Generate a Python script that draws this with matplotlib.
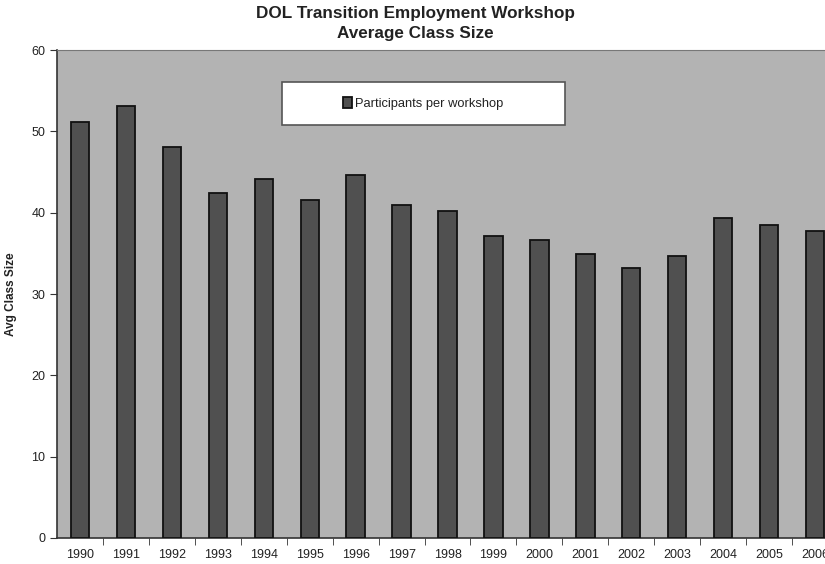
import numpy as np
import matplotlib
matplotlib.use("Agg")
import matplotlib.pyplot as plt
from matplotlib.patches import Rectangle

plt.rcParams['font.family'] = ['Liberation Sans', 'DejaVu Sans']

years = ['1990', '1991', '1992', '1993', '1994', '1995', '1996', '1997', '1998',
         '1999', '2000', '2001', '2002', '2003', '2004', '2005', '2006']
class_size = [51.2, 53.1, 48.1, 42.4, 44.2, 41.6, 44.7, 40.9, 40.2,
              37.2, 36.6, 34.9, 33.2, 34.7, 39.4, 38.5, 37.7]

fig = plt.figure(figsize=(8.25, 5.64), dpi=100)
# the original chart is cut off at the right edge, so the axes run past it
ax = fig.add_axes([0.0691, 0.0461, 0.9467, 0.865])
ax.set_facecolor('#b3b3b3')

x = np.arange(len(years))
ax.bar(x, class_size, width=0.4, color='#505050', edgecolor='#111111',
       linewidth=1.3, label='Participants per workshop', zorder=3)

ax.set_xlim(-0.5, len(years) - 0.5)
ax.set_ylim(0, 60)
ax.set_yticks([0, 10, 20, 30, 40, 50, 60])
ax.set_xticks(x)
ax.set_xticklabels(years)
ax.set_xticks(np.arange(len(years)) + 0.5, minor=True)
ax.tick_params(axis='x', which='major', length=0, pad=8, labelsize=9, labelcolor='#222222')
ax.tick_params(axis='x', which='minor', length=5, direction='out', color='#333333')
ax.tick_params(axis='y', length=5, direction='out', labelsize=9, labelcolor='#222222', color='#333333')

for s in ['left', 'bottom']:
    ax.spines[s].set_color('#333333')
    ax.spines[s].set_linewidth(1.2)
for s in ['top', 'right']:
    ax.spines[s].set_color('#777777')

ax.set_ylabel('Avg Class Size', fontsize=8.5, fontweight='bold', labelpad=10, color='#222222')

fig.text(0.503, 0.958, 'DOL Transition Employment Workshop\nAverage Class Size',
         ha='center', va='center', fontsize=12.3, fontweight='bold',
         color='#222222', linespacing=1.45)

# legend box
box = Rectangle((0.288, 0.846), 0.362, 0.088, transform=ax.transAxes,
                facecolor='white', edgecolor='#555555', linewidth=1.2, zorder=4)
ax.add_patch(box)
leg = ax.legend(loc='center', bbox_to_anchor=(0.469, 0.89), frameon=False,
                fontsize=9.3, handlelength=0.7, handleheight=0.9, handletextpad=0.2)
leg.set_zorder(5)
for t in leg.get_texts():
    t.set_color('#222222')

fig.savefig('out.png', dpi=100)
